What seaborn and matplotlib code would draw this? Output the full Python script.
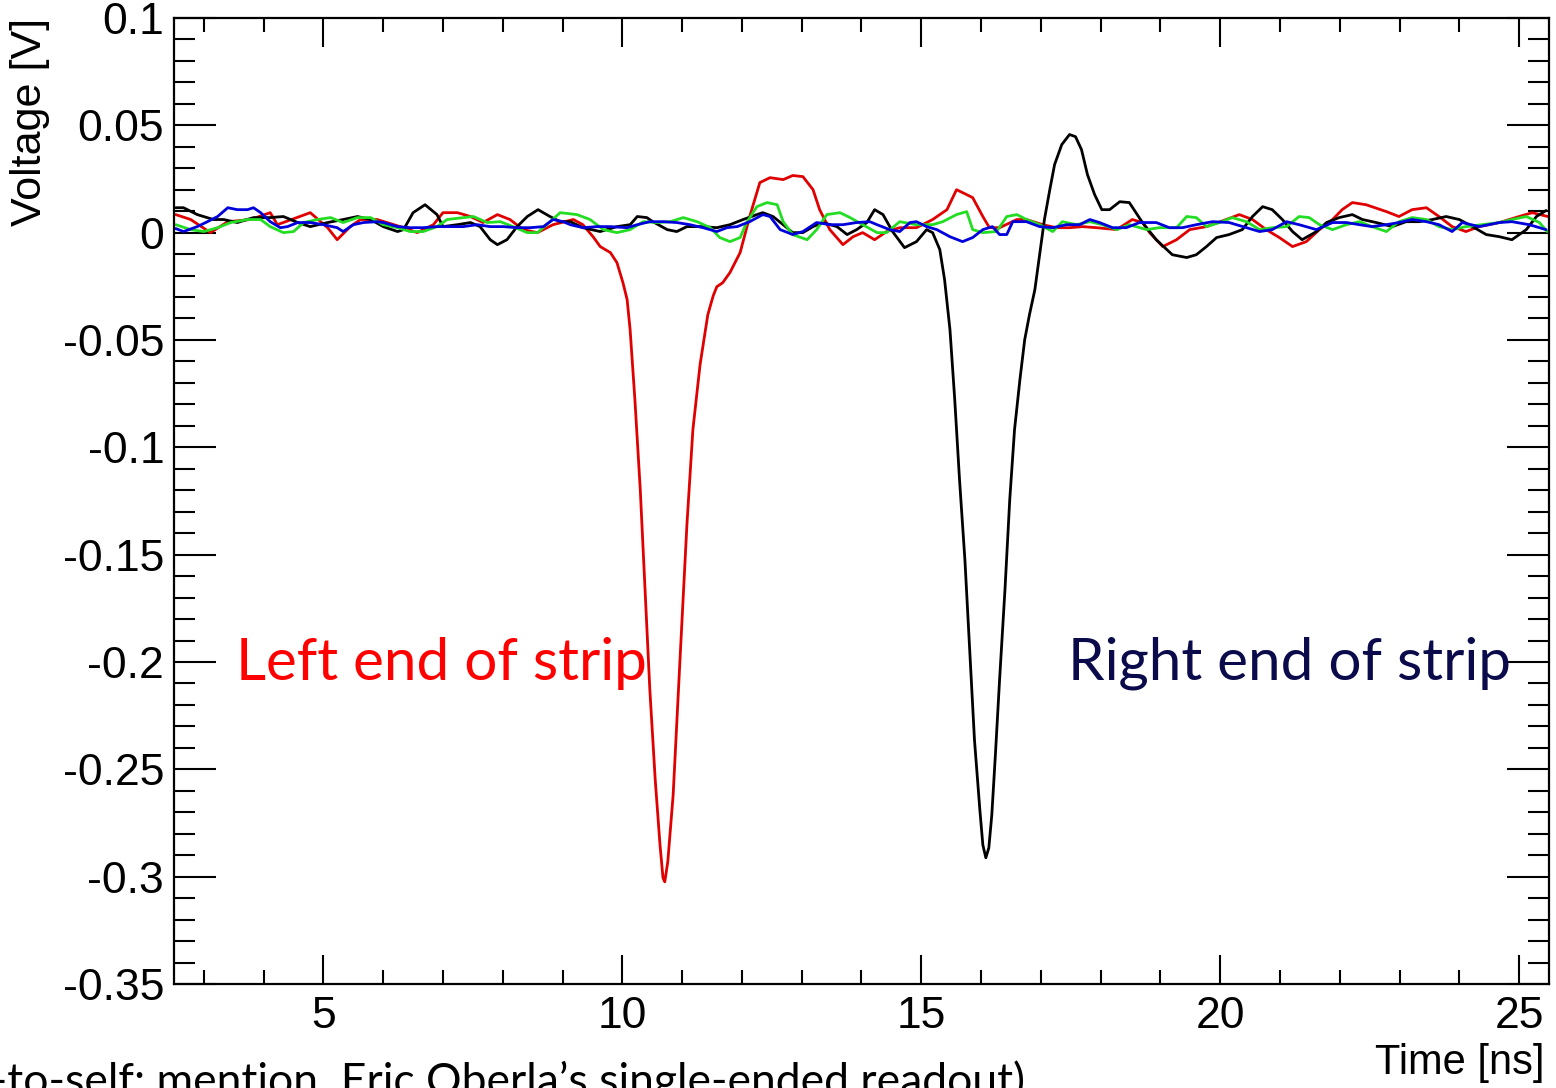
import matplotlib
matplotlib.use("Agg")
import matplotlib.pyplot as plt
import numpy as np
import pandas as pd
import seaborn as sns
from matplotlib.ticker import MultipleLocator, FuncFormatter

# ---------------- data ----------------
red_t = [2.53, 2.78, 3.11, 3.40, 3.78, 4.11, 4.23, 4.78, 5.07, 5.23, 5.45, 5.62, 5.90, 6.34, 6.57,
         6.84, 7.00, 7.24, 7.46, 7.67, 7.91, 8.12, 8.34, 8.58, 8.84, 9.18, 9.34, 9.51, 9.63, 9.80,
         9.91, 10.01, 10.08, 10.13, 10.21, 10.30, 10.38, 10.46, 10.55, 10.63, 10.68, 10.71, 10.76,
         10.85, 10.96, 11.08, 11.18, 11.30, 11.43, 11.52, 11.58, 11.68, 11.80, 11.97, 12.13, 12.30,
         12.47, 12.69, 12.85, 13.02, 13.19, 13.30, 13.47, 13.69, 13.86, 14.02, 14.22, 14.42, 14.64,
         14.92, 15.19, 15.43, 15.59, 15.76, 15.86, 16.03, 16.14, 16.31, 16.60, 16.76, 17.03, 17.26,
         17.48, 17.70, 17.93, 18.27, 18.53, 18.70, 18.82, 19.04, 19.27, 19.49, 19.77, 20.10, 20.32,
         20.54, 20.77, 20.99, 21.21, 21.44, 21.66, 21.88, 22.04, 22.21, 22.44, 22.78, 22.99, 23.21,
         23.45, 23.66, 23.88, 24.11, 24.33, 24.67, 25.00, 25.22, 25.48]
red_v = [0.0084, 0.0061, 0.0000, 0.0051, 0.0061, 0.0093, 0.0037, 0.0093, 0.0023, -0.0033, 0.0028,
         0.0061, 0.0061, 0.0023, 0.0000, 0.0037, 0.0093, 0.0093, 0.0075, 0.0047, 0.0084, 0.0061,
         0.0014, 0.0000, 0.0037, 0.0061, 0.0037, -0.0019, -0.0065, -0.0093, -0.0140, -0.0233,
         -0.0312, -0.0452, -0.0778, -0.1198, -0.1664, -0.2130, -0.2549, -0.2852, -0.3006, -0.3024,
         -0.2931, -0.2619, -0.2013, -0.1361, -0.0918, -0.0615, -0.0382, -0.0294, -0.0252, -0.0233,
         -0.0186, -0.0093, 0.0075, 0.0233, 0.0256, 0.0247, 0.0266, 0.0261, 0.0200, 0.0107, 0.0014,
         -0.0056, -0.0019, 0.0000, -0.0033, 0.0005, 0.0023, 0.0023, 0.0061, 0.0107, 0.0200, 0.0177,
         0.0163, 0.0075, 0.0023, 0.0023, 0.0061, 0.0061, 0.0037, 0.0023, 0.0023, 0.0028, 0.0023,
         0.0014, 0.0061, 0.0047, 0.0000, -0.0065, -0.0033, 0.0014, 0.0028, 0.0061, 0.0084, 0.0061,
         0.0014, -0.0023, -0.0065, -0.0042, 0.0014, 0.0061, 0.0107, 0.0140, 0.0130, 0.0098, 0.0075,
         0.0107, 0.0116, 0.0075, 0.0028, 0.0005, 0.0028, 0.0047, 0.0075, 0.0093, 0.0075]

black_t = [2.53, 2.66, 2.89, 3.16, 3.33, 3.56, 3.83, 4.11, 4.33, 4.57, 4.78, 5.07, 5.33, 5.57, 5.79,
           6.00, 6.24, 6.34, 6.50, 6.70, 6.90, 7.00, 7.24, 7.46, 7.62, 7.79, 7.91, 8.07, 8.24, 8.41,
           8.59, 8.79, 8.96, 9.13, 9.34, 9.63, 9.91, 10.13, 10.25, 10.41, 10.51, 10.75, 10.91, 11.08,
           11.35, 11.58, 11.80, 12.02, 12.25, 12.35, 12.52, 12.69, 12.85, 13.02, 13.19, 13.35, 13.59,
           13.76, 13.92, 14.09, 14.22, 14.36, 14.52, 14.72, 14.92, 15.09, 15.19, 15.31, 15.39, 15.48,
           15.56, 15.64, 15.73, 15.81, 15.89, 15.98, 16.03, 16.08, 16.13, 16.18, 16.24, 16.31, 16.40,
           16.48, 16.56, 16.65, 16.73, 16.81, 16.90, 16.98, 17.06, 17.15, 17.23, 17.35, 17.48, 17.58,
           17.68, 17.78, 17.90, 18.02, 18.15, 18.32, 18.48, 18.70, 18.93, 19.20, 19.44, 19.60, 19.77,
           19.94, 20.15, 20.37, 20.54, 20.71, 20.87, 21.04, 21.21, 21.37, 21.61, 21.78, 21.99, 22.21,
           22.38, 22.61, 22.88, 23.11, 23.33, 23.55, 23.78, 24.00, 24.22, 24.45, 24.67, 24.88, 25.12,
           25.29, 25.45]
black_v = [0.0116, 0.0116, 0.0084, 0.0061, 0.0061, 0.0047, 0.0070, 0.0070, 0.0075, 0.0047, 0.0028,
           0.0047, 0.0061, 0.0075, 0.0061, 0.0028, 0.0005, 0.0014, 0.0093, 0.0130, 0.0084, 0.0028,
           0.0037, 0.0047, 0.0028, -0.0033, -0.0056, -0.0033, 0.0028, 0.0075, 0.0107, 0.0075, 0.0051,
           0.0051, 0.0023, 0.0005, 0.0028, 0.0037, 0.0075, 0.0070, 0.0051, 0.0014, 0.0005, 0.0028,
           0.0028, 0.0023, 0.0037, 0.0061, 0.0084, 0.0093, 0.0075, 0.0037, 0.0000, 0.0000, 0.0028,
           0.0047, 0.0028, -0.0009, 0.0014, 0.0047, 0.0107, 0.0084, 0.0005, -0.0070, -0.0042, 0.0014,
           0.0000, -0.0079, -0.0219, -0.0452, -0.0778, -0.1151, -0.1524, -0.1943, -0.2363, -0.2689,
           -0.2852, -0.2912, -0.2866, -0.2712, -0.2432, -0.2083, -0.1664, -0.1244, -0.0918, -0.0685,
           -0.0499, -0.0382, -0.0266, -0.0103, 0.0061, 0.0200, 0.0317, 0.0410, 0.0457, 0.0447, 0.0387,
           0.0270, 0.0177, 0.0107, 0.0107, 0.0144, 0.0140, 0.0047, -0.0033, -0.0103, -0.0116, -0.0103,
           -0.0065, -0.0023, -0.0009, 0.0014, 0.0075, 0.0121, 0.0107, 0.0061, 0.0005, -0.0033, 0.0005,
           0.0047, 0.0070, 0.0084, 0.0061, 0.0047, 0.0028, 0.0051, 0.0051, 0.0061, 0.0075, 0.0061,
           0.0028, -0.0009, -0.0019, -0.0033, 0.0014, 0.0075, 0.0103]

green_t = [2.53, 2.78, 3.00, 3.23, 3.45, 3.73, 3.95, 4.11, 4.33, 4.50, 4.67, 4.90, 5.12, 5.33, 5.57,
           5.79, 6.00, 6.24, 6.45, 6.67, 6.90, 7.07, 7.34, 7.51, 7.74, 7.96, 8.17, 8.41, 8.58, 8.79,
           8.96, 9.24, 9.46, 9.68, 9.91, 10.13, 10.35, 10.58, 10.80, 11.02, 11.25, 11.47, 11.63, 11.80,
           11.97, 12.08, 12.25, 12.42, 12.59, 12.69, 12.85, 13.09, 13.25, 13.42, 13.64, 13.81, 14.02,
           14.26, 14.42, 14.64, 14.92, 15.19, 15.36, 15.59, 15.76, 15.86, 16.03, 16.26, 16.43, 16.60,
           16.76, 16.98, 17.20, 17.36, 17.60, 17.82, 18.03, 18.27, 18.48, 18.77, 18.98, 19.27, 19.44,
           19.60, 19.77, 19.99, 20.20, 20.44, 20.66, 20.87, 21.11, 21.32, 21.49, 21.66, 21.88, 22.11,
           22.33, 22.54, 22.78, 22.99, 23.21, 23.45, 23.66, 23.88, 24.11, 24.38, 24.67, 24.88, 25.12,
           25.34, 25.47]
green_v = [0.0037, 0.0014, 0.0005, 0.0023, 0.0047, 0.0061, 0.0061, 0.0028, 0.0000, 0.0005, 0.0047,
           0.0061, 0.0070, 0.0047, 0.0070, 0.0070, 0.0037, 0.0023, 0.0005, 0.0005, 0.0028, 0.0061,
           0.0070, 0.0075, 0.0047, 0.0051, 0.0028, 0.0000, 0.0000, 0.0051, 0.0093, 0.0084, 0.0061,
           0.0014, 0.0000, 0.0014, 0.0051, 0.0047, 0.0051, 0.0070, 0.0051, 0.0023, -0.0023, -0.0042,
           -0.0023, 0.0047, 0.0121, 0.0140, 0.0130, 0.0051, -0.0009, -0.0033, 0.0014, 0.0084, 0.0093,
           0.0070, 0.0037, 0.0000, 0.0000, 0.0051, 0.0037, 0.0037, 0.0051, 0.0084, 0.0098, 0.0014,
           0.0000, 0.0005, 0.0075, 0.0084, 0.0061, 0.0037, 0.0005, 0.0051, 0.0037, 0.0051, 0.0037,
           0.0014, 0.0037, 0.0014, 0.0023, 0.0023, 0.0075, 0.0070, 0.0028, 0.0047, 0.0070, 0.0051,
           0.0014, 0.0023, 0.0028, 0.0075, 0.0070, 0.0037, 0.0014, 0.0037, 0.0051, 0.0028, 0.0005,
           0.0051, 0.0070, 0.0061, 0.0028, 0.0014, 0.0028, 0.0037, 0.0047, 0.0061, 0.0075, 0.0047,
           0.0005]

blue_t = [2.53, 2.66, 2.89, 3.06, 3.23, 3.40, 3.56, 3.73, 3.83, 3.95, 4.11, 4.28, 4.40, 4.57, 4.78,
          5.00, 5.23, 5.33, 5.50, 5.67, 5.90, 6.00, 6.24, 6.45, 6.67, 6.90, 7.12, 7.34, 7.57, 7.79,
          8.01, 8.24, 8.46, 8.68, 8.84, 9.01, 9.13, 9.34, 9.58, 9.80, 10.08, 10.25, 10.46, 10.68,
          10.91, 11.13, 11.35, 11.58, 11.75, 11.92, 12.13, 12.35, 12.47, 12.64, 12.85, 13.02, 13.25,
          13.47, 13.69, 13.92, 14.14, 14.26, 14.47, 14.64, 14.81, 14.92, 15.09, 15.26, 15.48, 15.69,
          15.86, 16.03, 16.19, 16.31, 16.43, 16.53, 16.76, 16.98, 17.20, 17.43, 17.65, 17.82, 17.98,
          18.20, 18.43, 18.65, 18.93, 19.15, 19.37, 19.60, 19.87, 20.15, 20.44, 20.66, 20.87, 21.11,
          21.32, 21.61, 21.88, 22.11, 22.33, 22.54, 22.78, 22.99, 23.21, 23.45, 23.66, 23.88, 24.05,
          24.33, 24.67, 24.88, 25.17, 25.45]
blue_v = [0.0019, 0.0005, 0.0028, 0.0051, 0.0075, 0.0116, 0.0107, 0.0107, 0.0116, 0.0093, 0.0051,
          0.0023, 0.0028, 0.0047, 0.0047, 0.0037, 0.0023, 0.0005, 0.0037, 0.0047, 0.0051, 0.0047,
          0.0028, 0.0023, 0.0023, 0.0028, 0.0028, 0.0028, 0.0037, 0.0028, 0.0028, 0.0023, 0.0023,
          0.0028, 0.0061, 0.0051, 0.0037, 0.0023, 0.0028, 0.0028, 0.0023, 0.0037, 0.0051, 0.0051,
          0.0047, 0.0037, 0.0023, 0.0005, 0.0023, 0.0028, 0.0051, 0.0084, 0.0075, 0.0014, -0.0009,
          0.0005, 0.0047, 0.0037, 0.0037, 0.0047, 0.0051, 0.0037, 0.0014, 0.0005, 0.0047, 0.0051,
          0.0028, 0.0014, -0.0019, -0.0042, -0.0023, 0.0014, 0.0028, -0.0009, -0.0009, 0.0051,
          0.0051, 0.0028, 0.0023, 0.0037, 0.0037, 0.0061, 0.0047, 0.0023, 0.0023, 0.0047, 0.0047,
          0.0023, 0.0023, 0.0037, 0.0051, 0.0047, 0.0023, 0.0005, 0.0014, 0.0051, 0.0037, 0.0014,
          0.0047, 0.0047, 0.0037, 0.0028, 0.0037, 0.0047, 0.0061, 0.0051, 0.0037, 0.0005, 0.0047,
          0.0028, 0.0047, 0.0051, 0.0037, 0.0014]

channels = ["red", "black", "green", "blue"]
line_colors = {"red": "#e00000", "black": "#000000", "green": "#22dd22", "blue": "#0000dd"}

x_label = "Time [ns]"
y_label = "Voltage [V]"
left_text = "Left end of strip"
right_text = "Right end of strip"
note_text = "(Note-to-self: mention  Eric Oberla\u2019s single-ended readout)"

# ---------------- build table ----------------
frames = []
for name, tt, vv in [("red", red_t, red_v), ("black", black_t, black_v),
                     ("green", green_t, green_v), ("blue", blue_t, blue_v)]:
    frames.append(pd.DataFrame({"t": tt, "v": vv, "ch": name}))
df = pd.concat(frames, ignore_index=True)

# ---------------- style ----------------
sns.set_theme(style="white")
plt.rcParams["font.family"] = ["Liberation Sans", "DejaVu Sans"]
plt.rcParams["axes.unicode_minus"] = False
plt.rcParams["text.color"] = "black"
plt.rcParams["axes.labelcolor"] = "black"
plt.rcParams["xtick.color"] = "black"
plt.rcParams["ytick.color"] = "black"

fig = plt.figure(figsize=(15.56, 10.88), dpi=100)
ax = fig.add_axes([0.1118, 0.0956, 0.8837, 0.8879])

sns.lineplot(data=df, x="t", y="v", hue="ch", hue_order=channels, palette=line_colors,
             estimator=None, sort=False, linewidth=2.0, legend=False, ax=ax)

ax.set_xlim(2.5, 25.5)
ax.set_ylim(-0.35, 0.1)

ax.xaxis.set_major_locator(MultipleLocator(5))
ax.xaxis.set_minor_locator(MultipleLocator(1))
ax.yaxis.set_major_locator(MultipleLocator(0.05))
ax.yaxis.set_minor_locator(MultipleLocator(0.01))


def yfmt(v, pos):
    r = round(v, 3)
    if abs(r) < 1e-9:
        return "0"
    return f"{r:g}"


ax.yaxis.set_major_formatter(FuncFormatter(yfmt))
ax.xaxis.set_major_formatter(FuncFormatter(lambda v, p: f"{v:g}"))

ax.tick_params(axis="x", which="major", direction="in", length=21, width=1.5,
               top=True, bottom=True, labelsize=32, pad=9, colors="black")
ax.tick_params(axis="x", which="minor", direction="in", length=10, width=1.5,
               top=True, bottom=True, colors="black")
ax.tick_params(axis="y", which="major", direction="in", length=30, width=1.5,
               left=True, right=True, labelsize=32, pad=7, colors="black")
ax.tick_params(axis="y", which="minor", direction="in", length=15, width=1.5,
               left=True, right=True, colors="black")

for sp in ax.spines.values():
    sp.set_linewidth(1.6)
    sp.set_color("black")
    sp.set_visible(True)

ax.set_xlabel(x_label, fontsize=30, loc="right")
ax.xaxis.set_label_coords(0.997, -0.061)
ax.set_ylabel(y_label, fontsize=31, loc="top")
ax.yaxis.set_label_coords(-0.09, 1.0)

ax.text(3.53, -0.2083, left_text, color="#ff0000", fontsize=42,
        family=["Lato", "DejaVu Sans"], ha="left", va="baseline")
ax.text(17.45, -0.2083, right_text, color="#0b0b4b", fontsize=42,
        family=["Lato", "DejaVu Sans"], ha="left", va="baseline")

fig.text(1025 / 1556, -0.006, note_text, color="black", fontsize=32,
         family=["Lato", "DejaVu Sans"], ha="right", va="baseline")

fig.savefig("out.png", dpi=100)
